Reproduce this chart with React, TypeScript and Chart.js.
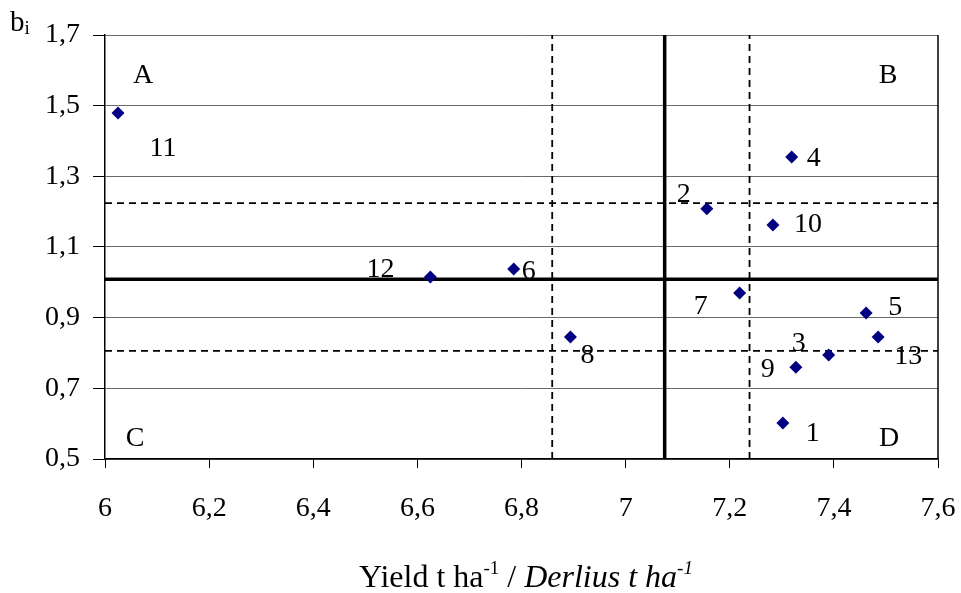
import React, { useEffect, useRef } from 'react';
import { Chart, registerables } from 'chart.js';

Chart.register(...registerables);

// ---- Data ----
const genotypes = ['1', '2', '3', '4', '5', '6', '7', '8', '9', '10', '11', '12', '13'];
const yieldValues = [7.302, 7.156, 7.39, 7.319, 7.462, 6.785, 7.219, 6.894, 7.327, 7.283, 6.025, 6.625, 7.485];
const biValues = [0.602, 1.208, 0.794, 1.355, 0.913, 1.038, 0.97, 0.845, 0.76, 1.162, 1.479, 1.015, 0.845];

const meanYield = 7.075;
const meanBi = 1.009;
const dashedYield = [6.859, 7.238];
const dashedBi = [1.224, 0.806];

const quadrantNames = ['A', 'B', 'C', 'D'];
const quadrantX = [6.073, 7.504, 6.058, 7.506];
const quadrantY = [1.592, 1.592, 0.562, 0.562];

const xMin = 6;
const xMax = 7.6;
const yMin = 0.5;
const yMax = 1.7;
const tickStep = 0.2;

// label offsets (pixels) for point numbers
const labelDx = [30, -23, -30, 22, 29, 15, -39, 17, -28, 35, 45, -50, 30];
const labelDy = [9, -16, -13, 0, -7, 1, 12, 17, 1, -2, 34, -9, 18];

const SERIF = '"Liberation Serif", "Times New Roman", serif';

const fmt = (v: number) => String(Number(v.toFixed(1))).replace('.', ',');

const annotationPlugin = {
  id: 'annotations',
  afterDraw(chart: any) {
    const { ctx, chartArea, scales } = chart;
    const xs = scales.x;
    const ys = scales.y;
    ctx.save();
    // right border
    ctx.strokeStyle = '#000';
    ctx.lineWidth = 1.5;
    ctx.beginPath();
    ctx.moveTo(chartArea.right, chartArea.top);
    ctx.lineTo(chartArea.right, chartArea.bottom);
    ctx.stroke();

    ctx.fillStyle = '#000';
    ctx.textAlign = 'center';
    ctx.textBaseline = 'middle';
    ctx.font = `28px ${SERIF}`;
    genotypes.forEach((g, i) => {
      const px = xs.getPixelForValue(yieldValues[i]) + labelDx[i];
      const py = ys.getPixelForValue(biValues[i]) + labelDy[i];
      ctx.fillText(g, px, py + 2);
    });
    quadrantNames.forEach((q, i) => {
      ctx.fillText(q, xs.getPixelForValue(quadrantX[i]), ys.getPixelForValue(quadrantY[i]) + 2);
    });

    // y-axis title "b_i"
    ctx.textAlign = 'left';
    ctx.textBaseline = 'alphabetic';
    ctx.font = `29px ${SERIF}`;
    ctx.fillText('b', 10, 31);
    const bw = ctx.measureText('b').width;
    ctx.font = `19px ${SERIF}`;
    ctx.fillText('i', 10 + bw, 34);

    // x-axis title
    const parts = [
      { t: 'Yield t ha', f: `32px ${SERIF}`, dy: 0 },
      { t: '-1', f: `19px ${SERIF}`, dy: -13 },
      { t: ' / ', f: `32px ${SERIF}`, dy: 0 },
      { t: 'Derlius t ha', f: `italic 32px ${SERIF}`, dy: 0 },
      { t: '-1', f: `italic 19px ${SERIF}`, dy: -13 },
    ];
    let total = 0;
    const widths = parts.map((p) => {
      ctx.font = p.f;
      const w = ctx.measureText(p.t).width;
      total += w;
      return w;
    });
    let x = 526 - total / 2;
    const base = 587;
    parts.forEach((p, i) => {
      ctx.font = p.f;
      ctx.fillText(p.t, x, base + p.dy);
      x += widths[i];
    });
    ctx.restore();
  },
};

export default function App() {
  const ref = useRef<HTMLCanvasElement | null>(null);

  useEffect(() => {
    document.body.style.margin = '0';
    if (!ref.current) return;
    const points = yieldValues.map((v, i) => ({ x: v, y: biValues[i] }));
    const solid = { borderColor: '#000', borderWidth: 3.5, pointRadius: 0, showLine: true, fill: false };
    const dashed = { borderColor: '#000', borderWidth: 1.8, borderDash: [7, 5], pointRadius: 0, showLine: true, fill: false };
    const chart = new Chart(ref.current, {
      type: 'scatter',
      data: {
        datasets: [
          {
            label: 'Genotypes',
            data: points,
            pointStyle: 'rectRot',
            pointRadius: 6.5,
            pointBackgroundColor: '#000080',
            pointBorderColor: '#000080',
            pointBorderWidth: 0,
          } as any,
          { ...solid, data: [{ x: meanYield, y: yMin }, { x: meanYield, y: yMax }] },
          { ...solid, data: [{ x: xMin, y: meanBi }, { x: xMax, y: meanBi }] },
          ...dashedYield.map((v) => ({ ...dashed, data: [{ x: v, y: yMin }, { x: v, y: yMax }] })),
          ...dashedBi.map((v) => ({ ...dashed, data: [{ x: xMin, y: v }, { x: xMax, y: v }] })),
        ],
      },
      options: {
        responsive: false,
        animation: false,
        layout: { padding: { top: 35, right: 23, left: 0, bottom: 0 } },
        plugins: { legend: { display: false }, tooltip: { enabled: false }, title: { display: false } },
        scales: {
          x: {
            type: 'linear',
            min: xMin,
            max: xMax,
            afterFit: (s: any) => { s.height = 134; s.paddingRight = 0; s.paddingLeft = 0; },
            ticks: {
              stepSize: tickStep,
              callback: (v: any) => fmt(Number(v)),
              font: { family: SERIF, size: 28 },
              color: '#000',
              padding: 24,
              maxRotation: 0,
            },
            grid: { drawOnChartArea: false, tickLength: 9, color: '#000', lineWidth: 1 },
            border: { color: '#000', width: 1.5 },
          },
          y: {
            type: 'linear',
            min: yMin,
            max: yMax,
            afterFit: (s: any) => { s.width = 105; s.paddingTop = 0; s.paddingBottom = 0; },
            ticks: {
              stepSize: tickStep,
              callback: (v: any) => fmt(Number(v)),
              font: { family: SERIF, size: 28 },
              color: '#000',
              padding: 13,
            },
            grid: { color: '#6a6a6a', lineWidth: 1, tickLength: 12, tickColor: '#000' },
            border: { color: '#000', width: 1.5 },
          },
        },
      },
      plugins: [annotationPlugin],
    });
    return () => chart.destroy();
  }, []);

  return (
    <div style={{ width: 961, height: 593, position: 'relative', background: '#fff' }}>
      <canvas ref={ref} width={961} height={593} style={{ display: 'block' }} />
    </div>
  );
}
